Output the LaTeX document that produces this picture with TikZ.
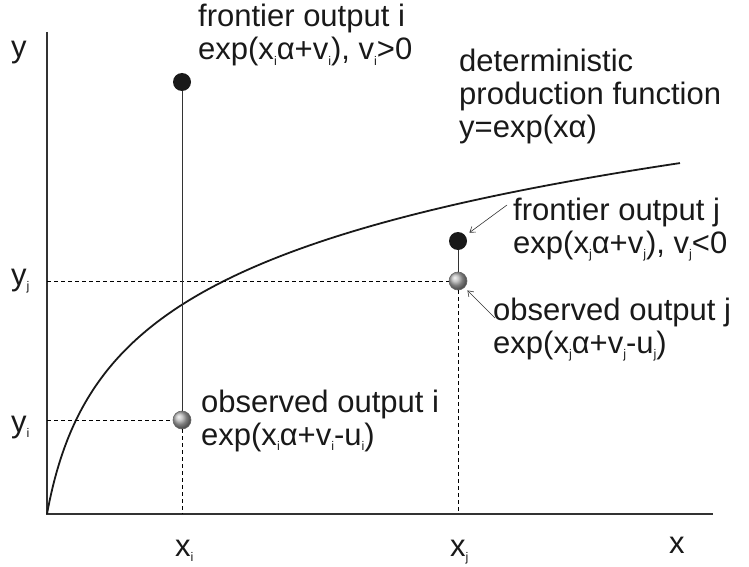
\documentclass[tikz,border=0pt]{standalone}
\usepackage{fontspec}
\setmainfont{Liberation Sans}
\usetikzlibrary{arrows.meta}
\newcommand{\sbs}[1]{\raisebox{-0.35ex}{\fontsize{12.5}{12.5}\selectfont #1}}
\begin{document}
\begin{tikzpicture}[x=1pt,y=-1pt,
  lbl/.style={anchor=base west, inner sep=0pt, font=\fontsize{31}{33}\selectfont, text=black!90},
  axisline/.style={line width=1.6pt, black!80},
  guide/.style={line width=0.8pt, dash pattern=on 4pt off 3pt},
  stem/.style={line width=1pt, black!80},
  curveline/.style={line width=1.8pt, black!90},
  fdot/.style={circle, fill=black!90, inner sep=0pt, minimum size=18pt},
  odot/.style={circle, ball color=gray!60, draw=black!60, line width=0.6pt, inner sep=0pt, minimum size=18pt},
  ptr/.style={line width=0.6pt, black!80, -{Straight Barb[length=5pt,width=7pt]}}
]
\useasboundingbox (0,0) rectangle (749,567);
% axes
\coordinate (O) at (47,514);
\coordinate (ytop) at (47,32);
\coordinate (xend) at (713,514);
\draw[axisline] (ytop) -- (O) -- (xend);
% curve
\draw[curveline] plot[domain=0:633, samples=250, smooth] ({47+\x},{514-97.8*ln(1+\x/18)});
% points
\node[fdot] (fi) at (182,82) {};
\node[odot] (oi) at (182,420) {};
\node[fdot] (fj) at (458,241) {};
\node[odot] (oj) at (458,281) {};
% guides
\draw[guide] (O |- oi) -- (oi.west);
\draw[guide] (oi.south) -- (oi |- O);
\draw[guide] (O |- oj) -- (oj.west);
\draw[guide] (oj.south) -- (oj |- O);
\draw[stem] (fi.south) -- (oi.north);
\draw[stem] (fj.south) -- (oj.north);
% pointers
\coordinate (pa) at (507,205);
\coordinate (pb) at (495,318);
\draw[ptr, shorten >=5pt] (pa) -- (fj);
\draw[ptr, shorten >=4pt] (pb) -- (oj);
% labels
\node[lbl] (fi1) at (198,27) {frontier output i};
\node[lbl] (fi2) at (198,60) {exp(x\sbs{i}α+v\sbs{i}), v\sbs{i}>0};
\node[lbl] (d1) at (459,72) {deterministic};
\node[lbl] (d2) at (459,105) {production function};
\node[lbl] (d3) at (459,138) {y=exp(xα)};
\node[lbl] (fj1) at (513,220) {frontier output j};
\node[lbl] (fj2) at (513,253) {exp(x\sbs{j}α+v\sbs{j}), v\sbs{j}<0};
\node[lbl] (oj1) at (493,320) {observed output j};
\node[lbl] (oj2) at (493,353) {exp(x\sbs{j}α+v\sbs{j}-u\sbs{j})};
\node[lbl] (oi1) at (201,412) {observed output i};
\node[lbl] (oi2) at (201,445) {exp(x\sbs{i}α+v\sbs{i}-u\sbs{i})};
\node[lbl] (ylab) at (11,58) {y};
\node[lbl] (yj) at (11,285) {y\sbs{j}};
\node[lbl] (yi) at (11,432) {y\sbs{i}};
\node[lbl] (xi) at (175,556) {x\sbs{i}};
\node[lbl] (xj) at (450,556) {x\sbs{j}};
\node[lbl] (xlab) at (669,553) {x};
\end{tikzpicture}
\end{document}
